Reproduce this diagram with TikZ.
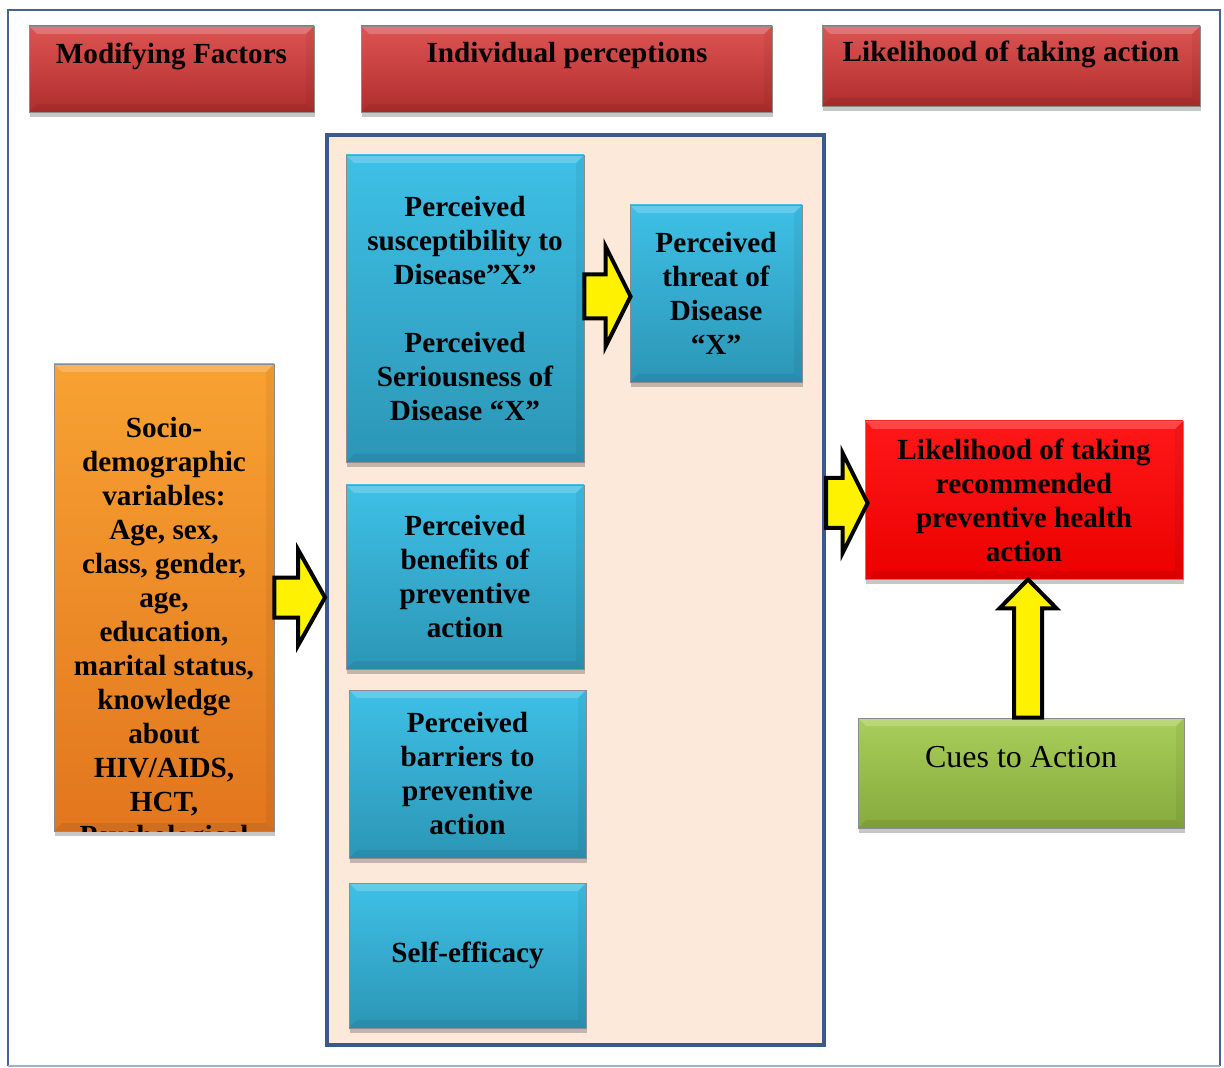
\documentclass[tikz,border=0pt]{standalone}
\usepackage{fontspec}
\setmainfont{Liberation Serif}
\usetikzlibrary{shadows,calc}
\definecolor{hdtop}{RGB}{221,84,82}
\definecolor{hdbot}{RGB}{176,46,46}
\definecolor{bltop}{RGB}{62,192,230}
\definecolor{blbot}{RGB}{44,150,182}
\definecolor{ortop}{RGB}{248,162,50}
\definecolor{orbot}{RGB}{226,118,30}
\definecolor{rdtop}{RGB}{255,24,24}
\definecolor{rdbot}{RGB}{236,0,0}
\definecolor{grtop}{RGB}{170,206,90}
\definecolor{grbot}{RGB}{134,170,60}
\definecolor{panelfill}{RGB}{252,233,218}
\definecolor{panelline}{RGB}{61,90,135}
\definecolor{framedark}{RGB}{68,100,150}
\definecolor{framelight}{RGB}{160,176,200}
\tikzset{
  bx/.style={draw=black!45, line width=0.4pt, inner sep=2pt, align=center,
    font=\fontsize{14.6}{17}\selectfont\bfseries,
    drop shadow={shadow xshift=0.5pt, shadow yshift=-2.5pt, opacity=0.22, fill=black},
    path picture={
      \fill[white, opacity=0.2] (path picture bounding box.north west) -- (path picture bounding box.north east)
        -- ([xshift=-4pt,yshift=-4pt]path picture bounding box.north east) -- ([xshift=4pt,yshift=-4pt]path picture bounding box.north west) -- cycle;
      \fill[black, opacity=0.07] (path picture bounding box.south west) -- (path picture bounding box.south east)
        -- ([xshift=-4pt,yshift=4pt]path picture bounding box.south east) -- ([xshift=4pt,yshift=4pt]path picture bounding box.south west) -- cycle;
      \fill[black, opacity=0.05] (path picture bounding box.north east) -- (path picture bounding box.south east)
        -- ([xshift=-4pt,yshift=4pt]path picture bounding box.south east) -- ([xshift=-4pt,yshift=-4pt]path picture bounding box.north east) -- cycle;
    }},
  hdr/.style={bx, top color=hdtop, bottom color=hdbot, minimum height=43pt},
  bluebox/.style={bx, top color=bltop, bottom color=blbot},
  txt/.style={inner sep=0pt, align=center, font=\fontsize{14.6}{17}\selectfont\bfseries},
  yarrow/.style={fill=yellow, draw=black, line width=2pt, line join=miter}
}
\newcommand{\harrow}[5]{%
  \draw[yarrow] let \p1=(#1), \p2=(#2) in
    (\x1,\y2+#3) -- (\x2-#5,\y2+#3) -- (\x2-#5,\y2+#4) -- (\x2,\y2) --
    (\x2-#5,\y2-#4) -- (\x2-#5,\y2-#3) -- (\x1,\y2-#3) -- cycle;}
\newcommand{\varrow}[5]{%
  \draw[yarrow] let \p1=(#1), \p2=(#2) in
    (\x2+#3,\y1) -- (\x2+#3,\y2-#5) -- (\x2+#4,\y2-#5) -- (\x2,\y2) --
    (\x2-#4,\y2-#5) -- (\x2-#3,\y2-#5) -- (\x2-#3,\y1) -- cycle;}
\begin{document}
\begin{tikzpicture}[x=0.5pt,y=-0.5pt]
\useasboundingbox (0,0) rectangle (1224,1068);
\fill[white] (0,0) rectangle (1224,1068);
% outer frame
\draw[framedark, line width=1.2pt] (8,1066) -- (8,10) -- (1220,10) -- (1220,1066);
\draw[framelight, line width=1pt] (8,1066) -- (1220,1066);

% headers
\node[hdr, minimum width=142.5pt] (h1) at (171.5,69) {};
\node[txt] (h1t) at (171.5,56) {Modifying Factors};
\node[hdr, minimum width=205.5pt] (h2) at (566.5,69) {};
\node[txt] (h2t) at (567,55) {Individual perceptions};
\node[hdr, minimum width=189pt, minimum height=40pt] (h3) at (1011,66) {};
\node[txt] (h3t) at (1011,54) {Likelihood of taking action};

% inner panel
\node[draw=panelline, fill=panelfill, line width=2pt, minimum width=248.5pt, minimum height=455pt, inner sep=0pt] (panel) at (575.5,590) {};

% blue boxes
\node[bluebox, minimum width=119pt, minimum height=153.5pt] (b1) at (465,308.5)
  {Perceived\\susceptibility to\\Disease”X”\\[17pt]Perceived\\Seriousness of\\Disease “X”};
\node[bluebox, minimum width=86pt, minimum height=88.5pt] (threat) at (716,293.5)
  {Perceived\\threat of\\Disease\\“X”};
\node[bluebox, minimum width=119pt, minimum height=92pt] (benefits) at (465,577)
  {Perceived\\benefits of\\preventive\\action};
\node[bluebox, minimum width=118.5pt, minimum height=84pt] (barriers) at (467.5,774)
  {Perceived\\barriers to\\preventive\\action};
\node[bluebox, minimum width=118.5pt, minimum height=72.5pt] (selfeff) at (467.5,955.5)
  {Self-efficacy};

% socio-demographic box
\node[bx, top color=ortop, bottom color=orbot, minimum width=110pt, minimum height=233.5pt] (socio) at (164,597.5) {};
\begin{scope}
\clip (socio.south west) rectangle (socio.north east);
\node[txt, anchor=north] (sociot) at (164,417)
  {Socio-\\demographic\\variables:\\Age, sex,\\class, gender,\\age,\\education,\\marital status,\\knowledge\\about\\HIV/AIDS,\\HCT,\\Psychological};
\end{scope}

% outcome boxes
\node[bx, top color=rdtop, bottom color=rdbot, minimum width=159pt, minimum height=79pt] (red) at (1024,500)
  {Likelihood of taking\\recommended\\preventive health\\action};
\node[bx, top color=grtop, bottom color=grbot, minimum width=163pt, minimum height=55pt] (cues) at (1021,773) {};
\node[inner sep=0pt, font=\fontsize{16}{19}\selectfont] (cuest) at (1021,757) {Cues to Action};

% block arrows
\harrow{socio.east}{panel.west |- socio.east}{10pt}{24pt}{13.5pt}
\harrow{b1.east |- threat.west}{$(threat.west)+(1,3)$}{11pt}{25pt}{12.5pt}
\harrow{panel.east |- red.west}{$(red.west)+(3,3)$}{12.5pt}{25pt}{12.5pt}
\varrow{cues.north}{$(red.south)+(4,0)$}{7pt}{14.25pt}{14.5pt}
\end{tikzpicture}
\end{document}
